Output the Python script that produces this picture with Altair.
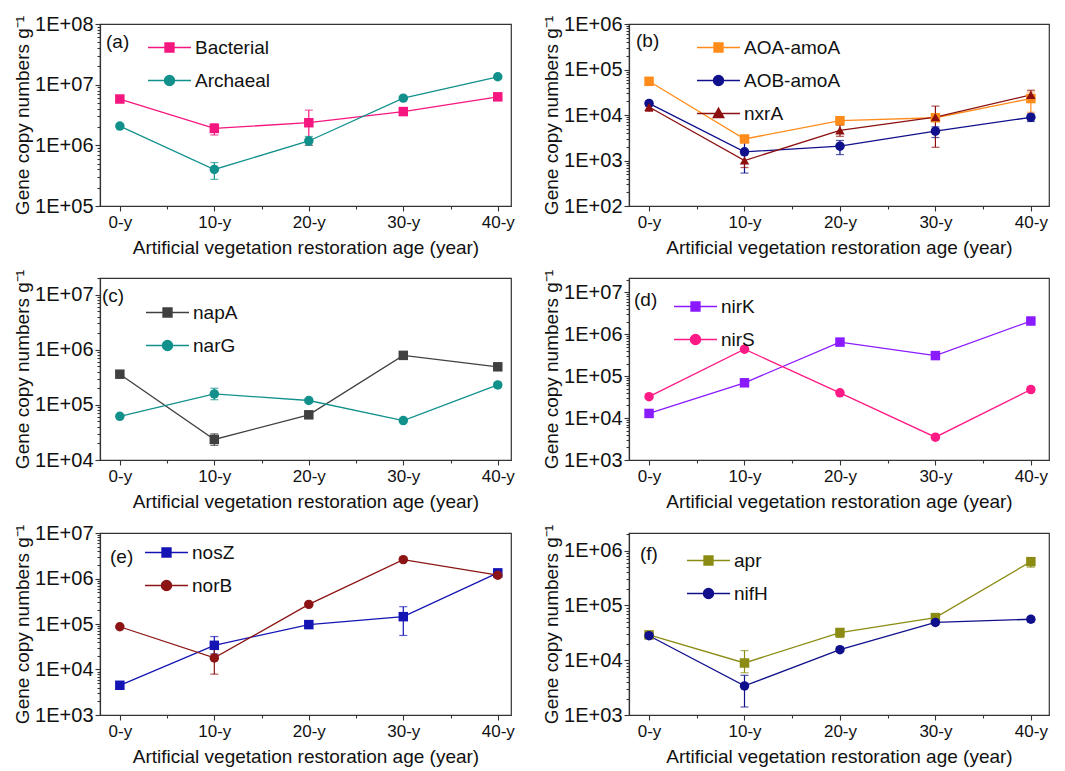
import json
import altair as alt
import pandas as pd

AGES = ["0-y", "10-y", "20-y", "30-y", "40-y"]
FONT = "Liberation Sans"

# ---- (a) ----
BACTERIAL = [5.8e6, 1.9e6, 2.36e6, 3.6e6, 6.3e6]
BACTERIAL_LO = [5.5e6, 1.48e6, 1.0e6, 3.4e6, 6.0e6]
BACTERIAL_HI = [6.1e6, 2.27e6, 3.8e6, 3.8e6, 6.6e6]
ARCHAEAL = [2.08e6, 4.0e5, 1.18e6, 6.0e6, 1.35e7]
ARCHAEAL_LO = [2.0e6, 2.75e5, 1.0e6, 5.7e6, 1.3e7]
ARCHAEAL_HI = [2.2e6, 5.2e5, 1.4e6, 6.3e6, 1.4e7]
# ---- (b) ----
AOA = [5.5e4, 2.97e3, 7.5e3, 8.7e3, 2.3e4]
AOA_LO = [5.2e4, 2.7e3, 7.0e3, 8.0e3, 1.15e4]
AOA_HI = [5.8e4, 3.2e3, 8.0e3, 9.4e3, 3.2e4]
AOB = [1.8e4, 1.55e3, 2.06e3, 4.4e3, 8.9e3]
AOB_LO = [1.6e4, 5.3e2, 1.35e3, 3.2e3, 7.2e3]
AOB_HI = [2.0e4, 2.5e3, 2.75e3, 5.5e3, 1.05e4]
NXRA = [1.5e4, 1.0e3, 4.6e3, 9.0e3, 2.77e4]
NXRA_LO = [1.2e4, 7.0e2, 3.4e3, 1.95e3, 2.2e4]
NXRA_HI = [1.85e4, 1.4e3, 6.0e3, 1.57e4, 3.5e4]
# ---- (c) ----
NAPA = [3.6e5, 2.36e4, 6.6e4, 7.9e5, 4.9e5]
NAPA_LO = [3.3e5, 1.84e4, 6.0e4, 7.3e5, 4.5e5]
NAPA_HI = [3.9e5, 2.98e4, 7.2e4, 8.5e5, 5.3e5]
NARG = [6.2e4, 1.58e5, 1.2e5, 5.2e4, 2.3e5]
NARG_LO = [5.8e4, 1.24e5, 1.1e5, 4.9e4, 2.1e5]
NARG_HI = [6.6e4, 2.0e5, 1.3e5, 5.5e4, 2.5e5]
# ---- (d) ----
NIRK = [1.29e4, 6.95e4, 6.5e5, 3.1e5, 2.07e6]
NIRK_LO = [1.2e4, 6.4e4, 6.0e5, 2.9e5, 1.95e6]
NIRK_HI = [1.38e4, 7.5e4, 7.0e5, 3.3e5, 2.2e6]
NIRS = [3.25e4, 4.4e5, 4.0e4, 3.5e3, 4.8e4]
NIRS_LO = [3.0e4, 4.1e5, 3.7e4, 3.3e3, 4.2e4]
NIRS_HI = [3.5e4, 4.7e5, 4.3e4, 3.7e3, 5.5e4]
# ---- (e) ----
NOSZ = [4.5e3, 3.4e4, 9.7e4, 1.45e5, 1.33e6]
NOSZ_LO = [4.2e3, 2.2e4, 9.0e4, 5.6e4, 1.2e6]
NOSZ_HI = [4.8e3, 5.3e4, 1.05e5, 2.4e5, 1.45e6]
NORB = [8.7e4, 1.8e4, 2.7e5, 2.6e6, 1.18e6]
NORB_LO = [8.2e4, 7.9e3, 2.5e5, 2.45e6, 1.1e6]
NORB_HI = [9.2e4, 3.0e4, 2.9e5, 2.75e6, 1.26e6]
# ---- (f) ----
APR = [2.9e4, 8.9e3, 3.2e4, 6.0e4, 6.3e5]
APR_LO = [2.7e4, 5.9e3, 2.6e4, 5.6e4, 5.0e5]
APR_HI = [3.1e4, 1.5e4, 3.8e4, 6.4e4, 7.2e5]
NIFH = [2.8e4, 3.4e3, 1.56e4, 4.9e4, 5.6e4]
NIFH_LO = [2.6e4, 1.4e3, 1.45e4, 4.6e4, 5.0e4]
NIFH_HI = [3.0e4, 5.3e3, 1.67e4, 5.2e4, 6.2e4]

SHAPES = ["square", "circle", "triangle-up"]
MARKER_KEYS = ["m0", "m1", "m2"]
# legend symbols: connecting line + marker, in the [-1,1] unit square
LEG_PATHS = [
    "M-1,0H1M-0.21,-0.21H0.21V0.21H-0.21Z",
    "M-1,0H1M-0.235,0A0.235,0.235,0,1,1,0.235,0A0.235,0.235,0,1,1,-0.235,0Z",
    "M-1,0H1M0,-0.25L0.25,0.19H-0.25Z",
]
LEG_SIZE = 43 * 43

X_LABEL_EXPR = json.dumps(AGES) + "[round(datum.value)]"
Y_LABEL_EXPR = ("'1E+' + (round(log(datum.value)/LN10) < 10 ? '0' : '') + "
                "round(log(datum.value)/LN10)")


def decades(lo, hi):
    out, v = [], lo
    while v <= hi * 1.0001:
        out.append(v)
        v *= 10
    return out


def minors(lo, hi):
    out, base = [], lo
    while base < hi:
        for k in range(2, 10):
            v = k * base
            if v <= hi * 1.0001:
                out.append(v)
        base *= 10
    return out


def panel(letter, series, colors, ydom, ytop_decade, width, xdom,
          legend_xy, letter_xy):
    names = [s[0] for s in series]
    n = len(names)
    rows = []
    for si, (name, vals, los, his) in enumerate(series):
        for i in range(len(AGES)):
            rows.append({"series": name, "mk": MARKER_KEYS[si], "idx": i,
                         "age": AGES[i], "v": vals[i], "lo": los[i], "hi": his[i]})
    df = pd.DataFrame(rows)

    xscale = alt.Scale(domain=xdom, nice=False, zero=False)
    yscale = alt.Scale(type="log", domain=ydom, nice=False)

    x_major = alt.Axis(values=list(range(len(AGES))), labelExpr=X_LABEL_EXPR,
                       title="Artificial vegetation restoration age (year)",
                       labelFontSize=17, titleFontSize=19, tickSize=5,
                       labelPadding=3, titlePadding=8, orient="bottom")
    x_minor = alt.Axis(values=[0.5, 1.5, 2.5, 3.5], labels=False, tickSize=3,
                       title=None, orient="bottom", domain=False)
    y_major = alt.Axis(values=decades(ydom[0], ytop_decade),
                       labelExpr=Y_LABEL_EXPR,
                       title="Gene copy numbers g\u207b\u00b9",
                       labelFontSize=20, titleFontSize=19, tickSize=5,
                       labelPadding=2, titlePadding=2, orient="left")
    y_minor = alt.Axis(values=minors(ydom[0], ydom[1]), labels=False,
                       tickSize=3, title=None, orient="left", domain=False)

    def sig(lst):
        expr = "'%s'" % lst[-1]
        for nm, item in reversed(list(zip(names[:-1], lst[:-1]))):
            expr = "datum.value === '%s' ? '%s' : (%s)" % (nm, item, expr)
        return expr

    legend = alt.Legend(
        orient="none", legendX=legend_xy[0], legendY=legend_xy[1],
        title=None, labelFont=FONT, labelFontSize=19, labelColor="#111",
        symbolSize=LEG_SIZE, labelOffset=3, rowPadding=-8, padding=0,
        symbolType={"expr": sig(LEG_PATHS[:n])},
        symbolStrokeColor={"expr": sig(colors)},
        symbolFillColor={"expr": sig(colors)},
        symbolStrokeWidth=1.3, symbolOpacity=1,
    )
    color = alt.Color("series:N", scale=alt.Scale(domain=names, range=colors),
                      legend=legend)
    shape_plain = alt.Shape("mk:N",
                            scale=alt.Scale(domain=MARKER_KEYS[:n], range=SHAPES[:n]),
                            legend=None)

    errdf = df[df["hi"] > df["lo"]]
    err = alt.Chart(errdf).mark_rule(strokeWidth=1.2).encode(
        x=alt.X("idx:Q", scale=xscale, axis=None),
        y=alt.Y("lo:Q", scale=yscale, axis=None), y2="hi:Q", color=color)
    cap_lo = alt.Chart(errdf).mark_tick(orient="horizontal", size=8, thickness=1.2).encode(
        x=alt.X("idx:Q", scale=xscale, axis=None),
        y=alt.Y("lo:Q", scale=yscale, axis=None), color=color)
    cap_hi = alt.Chart(errdf).mark_tick(orient="horizontal", size=8, thickness=1.2).encode(
        x=alt.X("idx:Q", scale=xscale, axis=None),
        y=alt.Y("hi:Q", scale=yscale, axis=None), color=color)
    line = alt.Chart(df).mark_line(strokeWidth=1.3).encode(
        x=alt.X("idx:Q", scale=xscale, axis=x_major),
        y=alt.Y("v:Q", scale=yscale, axis=y_major), color=color)
    pts = alt.Chart(df).mark_point(filled=True, size=90, opacity=1).encode(
        x=alt.X("idx:Q", scale=xscale, axis=None),
        y=alt.Y("v:Q", scale=yscale, axis=None),
        color=color, shape=shape_plain)
    minor = alt.Chart(df).mark_point(opacity=0).encode(
        x=alt.X("idx:Q", scale=xscale, axis=x_minor),
        y=alt.Y("v:Q", scale=yscale, axis=y_minor))
    tag = alt.Chart(pd.DataFrame({"t": ["(%s)" % letter]})).mark_text(
        align="left", baseline="middle", fontSize=19, font=FONT, color="#111"
    ).encode(x=alt.value(letter_xy[0]), y=alt.value(letter_xy[1]), text="t:N")

    return alt.layer(err, cap_lo, cap_hi, line, pts, minor, tag).resolve_axis(
        x="independent", y="independent"
    ).properties(width=width, height=182)


LW, RW = 411, 420
LX, RX = [-0.21, 4.14], [-0.21, 4.19]

pa = panel("a", [("Bacterial", BACTERIAL, BACTERIAL_LO, BACTERIAL_HI),
                 ("Archaeal", ARCHAEAL, ARCHAEAL_LO, ARCHAEAL_HI)],
           ["#F5167F", "#12918C"], [1e5, 1e8], 1e8, LW, LX, (47, 1), (6, 18))
pb = panel("b", [("AOA-amoA", AOA, AOA_LO, AOA_HI),
                 ("AOB-amoA", AOB, AOB_LO, AOB_HI),
                 ("nxrA", NXRA, NXRA_LO, NXRA_HI)],
           ["#FF8C1A", "#10108C", "#8C1010"], [1e2, 1e6], 1e6, RW, RX, (67, 1), (7, 17))
pc = panel("c", [("napA", NAPA, NAPA_LO, NAPA_HI),
                 ("narG", NARG, NARG_LO, NARG_HI)],
           ["#404040", "#12918C"], [1e4, 2e7], 1e7, LW, LX, (45, 12), (2, 18))
pd_ = panel("d", [("nirK", NIRK, NIRK_LO, NIRK_HI),
                  ("nirS", NIRS, NIRS_LO, NIRS_HI)],
            ["#8A1AFF", "#FF1A85"], [1e3, 2.2e7], 1e7, RW, RX, (44, 6), (5, 22))
pe = panel("e", [("nosZ", NOSZ, NOSZ_LO, NOSZ_HI),
                 ("norB", NORB, NORB_LO, NORB_HI)],
           ["#1414B4", "#8C1414"], [1e3, 1e7], 1e7, LW, LX, (44, -3), (10, 24))
pf = panel("f", [("apr", APR, APR_LO, APR_HI),
                 ("nifH", NIFH, NIFH_LO, NIFH_HI)],
           ["#8C8C14", "#10108C"], [1e3, 2.1e6], 1e6, RW, RX, (57, 5), (11, 21))


def row(l, r):
    return alt.hconcat(l, r, spacing=27).resolve_scale(
        color="independent", shape="independent"
    ).resolve_legend(color="independent", shape="independent")


chart = alt.vconcat(
    row(pa, pb), row(pc, pd_), row(pe, pf), spacing=10,
).resolve_scale(
    color="independent", shape="independent"
).resolve_legend(
    color="independent", shape="independent"
).configure(
    padding=5, font=FONT
).configure_view(
    stroke="#333", strokeWidth=1.2
).configure_axis(
    grid=False, labelFont=FONT, titleFont=FONT, titleFontWeight="normal",
    labelColor="#111", titleColor="#111", tickColor="#333", domainColor="#333",
    tickWidth=1.1, domainWidth=1.2,
)

chart.save("out.html", embed_options={"renderer": "svg", "actions": False})
